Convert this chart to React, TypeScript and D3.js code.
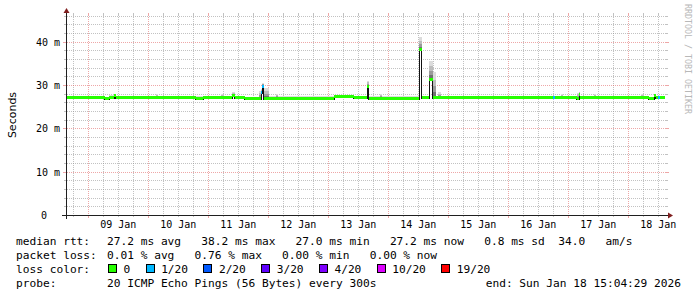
import React from "react";
import * as d3 from "d3";

// ---- time window ----
const START = "2026-01-08 15:04:29";
const END = "2026-01-18 15:04:29";

// ---- median rtt series (step segments) ----
const segStart = [
  "2026-01-08 15:05", "2026-01-09 06:30", "2026-01-09 08:20", "2026-01-09 10:20", "2026-01-09 11:00",
  "2026-01-10 03:00", "2026-01-10 04:00", "2026-01-10 19:00", "2026-01-10 22:00", "2026-01-11 05:05",
  "2026-01-11 05:55", "2026-01-11 09:30", "2026-01-11 10:40", "2026-01-11 14:40", "2026-01-11 20:15",
  "2026-01-11 21:05", "2026-01-11 21:30", "2026-01-11 22:15", "2026-01-12 00:15", "2026-01-12 03:00",
  "2026-01-12 03:50", "2026-01-13 02:15", "2026-01-13 10:15", "2026-01-13 15:40", "2026-01-13 16:15",
  "2026-01-13 20:40", "2026-01-13 21:30", "2026-01-14 12:15", "2026-01-14 13:30", "2026-01-14 16:15",
  "2026-01-14 17:55", "2026-01-14 19:05", "2026-01-14 20:00", "2026-01-14 21:00", "2026-01-16 17:55",
  "2026-01-16 18:40", "2026-01-16 21:00", "2026-01-16 21:50", "2026-01-17 03:30", "2026-01-17 04:15",
  "2026-01-17 04:40", "2026-01-17 10:20", "2026-01-17 11:10", "2026-01-18 05:00", "2026-01-18 05:50",
  "2026-01-18 08:15", "2026-01-18 10:15", "2026-01-18 11:05", "2026-01-18 11:55", "2026-01-18 12:40",
];
const dataEnd = "2026-01-18 14:40";
// median rtt (ms)
const segMedian = [
  27.2, 26.9, 27.2, 27.6, 27.2,
  27.3, 27.2, 27.1, 27.2, 27.2,
  27.2, 27.8, 27.2, 26.9, 26.9,
  28.4, 29.8, 27.0, 27.1, 27.1,
  27.1, 27.5, 27.2, 29.8, 27.1,
  27.1, 27.1, 38.2, 27.2, 31.4,
  27.2, 27.2, 27.2, 27.2, 27.2,
  27.2, 27.2, 27.2, 26.9, 28.0,
  27.2, 27.2, 27.2, 27.2, 27.2,
  27.0, 27.6, 27.2, 27.2, 27.2,
];
// lost pings out of 20
const segLoss = [
  0, 0, 0, 0, 0, 0, 0, 0, 0, 0,
  0, 0, 0, 0, 0, 1, 1, 0, 0, 0,
  0, 0, 0, 0, 0, 0, 0, 0, 0, 0,
  0, 0, 0, 0, 1, 0, 0, 0, 0, 0,
  0, 0, 0, 0, 0, 0, 0, 0, 1, 0,
];
// smoke: lowest and highest ping (ms)
const segLow = [
  27.0, 26.8, 27.0, 27.2, 27.0,
  27.1, 27.0, 26.9, 27.0, 27.0,
  27.0, 27.3, 27.0, 26.8, 26.6,
  28.0, 29.3, 26.9, 27.0, 27.0,
  27.0, 27.3, 27.0, 29.5, 27.0,
  27.0, 27.0, 38.0, 27.0, 31.0,
  27.0, 27.0, 27.0, 27.0, 27.0,
  27.0, 27.0, 27.0, 26.7, 27.6,
  27.0, 27.0, 27.0, 27.0, 27.0,
  26.9, 27.0, 27.0, 27.0, 27.0,
];
const segHigh = [
  27.5, 27.3, 27.6, 28.0, 27.5,
  27.9, 27.5, 27.4, 27.5, 28.0,
  27.5, 28.3, 27.5, 27.2, 28.6,
  29.0, 30.5, 29.2, 27.4, 28.0,
  27.4, 27.8, 27.5, 31.0, 27.4,
  28.0, 27.4, 41.0, 27.5, 35.6,
  33.0, 27.5, 28.3, 27.5, 27.5,
  27.5, 27.9, 27.5, 28.2, 28.4,
  27.5, 27.9, 27.5, 27.9, 27.5,
  27.3, 28.0, 27.5, 27.5, 27.5,
];

// ---- loss colour legend ----
const lossSteps = [0, 1, 2, 3, 4, 10, 19];
const lossLabels = ["0", "1/20", "2/20", "3/20", "4/20", "10/20", "19/20"];
const lossColors = ["#26ff00", "#00b8ff", "#0059ff", "#5e00ff", "#7e00ff", "#dd00ff", "#ff0000"];

// ---- axis ----
const yMax = 46.15;
const yMajorTicks = [0, 10, 20, 30, 40];
const yTickLabels = ["0", "10 m", "20 m", "30 m", "40 m"];

// ---- legend text ----
const legendTitles = ["median rtt:", "packet loss:", "loss color:", "probe:"];
const rttText = "27.2 ms avg   38.2 ms max   27.0 ms min   27.2 ms now   0.8 ms sd  34.0   am/s";
const lossText = "0.01 % avg   0.76 % max   0.00 % min   0.00 % now";
const probeText = "20 ICMP Echo Pings (56 Bytes) every 300s";
const endText = "end: Sun Jan 18 15:04:29 2026";

const W = 697, H = 297;
const X0 = 66, X1 = 666, Y0 = 215, Y1 = 15;
const MONO = "DejaVu Sans Mono";
const GRID = "rgba(143,143,143,0.55)";
const MGRID = "rgba(222,79,79,0.5)";

const pre: React.CSSProperties = { whiteSpace: "pre" };

export default function App() {
  const parse = d3.timeParse("%Y-%m-%d %H:%M");
  const parseS = d3.timeParse("%Y-%m-%d %H:%M:%S");
  const t0 = parseS(START)!, t1 = parseS(END)!;
  const x = d3.scaleTime().domain([t0, t1]).range([X0, X1]);
  const y = d3.scaleLinear().domain([0, yMax]).range([Y0, Y1]);

  const starts = segStart.map((s) => parse(s)!);
  const ends = starts.slice(1).concat([parse(dataEnd)!]);
  const segs = starts.map((s, i) => ({
    x0: Math.round(x(s)),
    x1: Math.round(x(ends[i])),
    m: segMedian[i],
    loss: segLoss[i],
    lo: segLow[i],
    hi: segHigh[i],
  }));
  const colorFor = (loss: number) => {
    let c = lossColors[0];
    lossSteps.forEach((s, i) => { if (loss >= s) c = lossColors[i]; });
    return c;
  };

  const minorV = d3.timeHour.every(6)!.range(t0, t1).filter((d) => d.getHours() !== 0);
  const majorV = d3.timeDay.range(t0, t1);
  const dayLabels = majorV.map((d) => d3.timeHour.offset(d, 12)).filter((d) => d > t0 && d < t1);
  const fmt = d3.timeFormat("%d %b");
  const minorH = d3.range(2, yMax, 2).filter((v) => v % 10 !== 0);
  const majorH = yMajorTicks;

  const px = (v: number) => Math.round(v) + 0.5;

  const smokeShades = [
    { f: 1.0, c: "#dcdcdc" },
    { f: 0.7, c: "#bdbdbd" },
    { f: 0.45, c: "#9a9a9a" },
    { f: 0.2, c: "#707070" },
  ];

  const risers: { x: number; ya: number; yb: number }[] = [];
  for (let i = 1; i < segs.length; i++) {
    const a = segs[i - 1], b = segs[i];
    if (a.x1 !== b.x0) continue;
    const col = b.m > a.m ? b.x0 : b.x0 - 1;
    const ya = Math.round(y(a.m)), yb = Math.round(y(b.m));
    risers.push({ x: col, ya: Math.min(ya, yb), yb: Math.max(ya, yb) });
  }

  const cw = 6.74;
  let lx = 108;
  const boxes = lossLabels.map((lab, i) => {
    const bx = lx;
    const tx = bx + 15.6;
    lx = tx + lab.length * cw + 15.2;
    return { bx, tx, lab, c: lossColors[i] };
  });

  const rows = [245, 259, 273, 287];

  return (
    <svg width={W} height={H} style={{ position: "absolute", left: 0, top: 0, background: "#fff" }}>
      <rect x={0} y={0} width={W} height={H} fill="#ffffff" />
      <g shapeRendering="crispEdges" strokeWidth={1}>
        {minorV.map((d, i) => {
          const xx = px(x(d));
          return (
            <g key={"mv" + i} stroke={GRID}>
              <line x1={xx} x2={xx} y1={Y0 + 2} y2={Y0} />
              <line x1={xx} x2={xx} y1={Y1} y2={Y1 - 2} />
              <line x1={xx} x2={xx} y1={Y0 - 1} y2={Y1 - 1} strokeDasharray="1 1" />
            </g>
          );
        })}
        {minorH.map((v, i) => {
          const yy = px(y(v));
          return (
            <g key={"mh" + i} stroke={GRID}>
              <line x1={X0 - 2} x2={X0} y1={yy} y2={yy} />
              <line x1={X1} x2={X1 + 2} y1={yy} y2={yy} />
              <line x1={X0 + 1} x2={X1 + 1} y1={yy} y2={yy} strokeDasharray="1 1" />
            </g>
          );
        })}
        {majorV.map((d, i) => {
          const xx = px(x(d));
          return (
            <g key={"Mv" + i} stroke={MGRID}>
              <line x1={xx} x2={xx} y1={Y0 + 3} y2={Y0} />
              <line x1={xx} x2={xx} y1={Y1} y2={Y1 - 2} />
              <line x1={xx} x2={xx} y1={Y0 - 1} y2={Y1 - 1} strokeDasharray="1 1" />
            </g>
          );
        })}
        {majorH.filter((v) => v > 0).map((v, i) => {
          const yy = px(y(v));
          return (
            <g key={"Mh" + i} stroke={MGRID}>
              <line x1={X0 - 3} x2={X0} y1={yy} y2={yy} />
              <line x1={X1} x2={X1 + 3} y1={yy} y2={yy} />
              <line x1={X0 + 1} x2={X1 + 1} y1={yy} y2={yy} strokeDasharray="1 1" />
            </g>
          );
        })}
      </g>

      <g shapeRendering="crispEdges">
        {segs.map((s, i) =>
          smokeShades.map((sh, j) => {
            const lo = s.m - (s.m - s.lo) * sh.f;
            const hi = s.m + (s.hi - s.m) * sh.f;
            const ya = Math.round(y(hi)), yb = Math.round(y(lo));
            if (yb - ya < 1) return null;
            return <rect key={"s" + i + "_" + j} x={s.x0} y={ya} width={s.x1 - s.x0} height={yb - ya} fill={sh.c} />;
          })
        )}
      </g>

      <g shapeRendering="crispEdges">
        {risers.map((r, i) => (
          <rect key={"r" + i} x={r.x} y={r.ya - 1} width={1} height={r.yb - r.ya + 3} fill="#111" />
        ))}
      </g>

      <g shapeRendering="crispEdges">
        {segs.map((s, i) => (
          <rect key={"m" + i} x={s.x0} y={Math.round(y(s.m)) - 1} width={s.x1 - s.x0} height={3} fill={colorFor(s.loss)} />
        ))}
      </g>

      <g shapeRendering="crispEdges" stroke="#1f1f1f" strokeWidth={1}>
        <line x1={X0 - 4} x2={X1 + 4} y1={Y0 + 0.5} y2={Y0 + 0.5} />
        <line x1={X0 + 0.5} x2={X0 + 0.5} y1={Y0 + 4} y2={Y1 - 4} />
      </g>
      <polygon points={`${X1 + 2},${Y0 - 2.5} ${X1 + 2},${Y0 + 3.5} ${X1 + 7},${Y0 + 0.5}`} fill="#801f1f" />
      <polygon points={`${X0 - 2.5},${Y1 - 2} ${X0 + 3.5},${Y1 - 2} ${X0 + 0.5},${Y1 - 7}`} fill="#801f1f" />

      <g fontFamily={MONO} fontSize={10} fill="#000">
        {yMajorTicks.map((v, i) => (
          <text key={"yl" + i} x={v === 0 ? 47 : 60} y={Math.round(y(v)) + 4} textAnchor="end">
            {yTickLabels[i]}
          </text>
        ))}
        {dayLabels.map((d, i) => (
          <text key={"xl" + i} x={x(d)} y={228} textAnchor="middle">
            {fmt(d)}
          </text>
        ))}
      </g>
      <text
        transform={`translate(15.5,${(Y0 + Y1) / 2}) rotate(-90)`}
        textAnchor="middle"
        fontFamily="DejaVu Sans"
        fontSize={11}
        fill="#000"
      >
        Seconds
      </text>
      <text transform={`translate(685,4) rotate(90)`} fontFamily={MONO} fontSize={8.3} fill="#b8b8b8">
        RRDTOOL / TOBI OETIKER
      </text>

      <g fontFamily={MONO} fontSize={11.2} fill="#000">
        {legendTitles.map((t, i) => (
          <text key={"lt" + i} x={16} y={rows[i]} xmlSpace="preserve" style={pre}>{t}</text>
        ))}
        <text x={107} y={rows[0]} xmlSpace="preserve" style={pre}>{rttText}</text>
        <text x={107} y={rows[1]} xmlSpace="preserve" style={pre}>{lossText}</text>
        <text x={107} y={rows[3]} xmlSpace="preserve" style={pre}>{probeText}</text>
        <text x={681} y={rows[3]} textAnchor="end" xmlSpace="preserve" style={pre}>{endText}</text>
        {boxes.map((b, i) => (
          <g key={"lb" + i}>
            <rect x={b.bx + 0.5} y={rows[2] - 8.5} width={8} height={8} fill={b.c} stroke="#000" strokeWidth={1} shapeRendering="crispEdges" />
            <text x={b.tx} y={rows[2]}>{b.lab}</text>
          </g>
        ))}
      </g>
    </svg>
  );
}
